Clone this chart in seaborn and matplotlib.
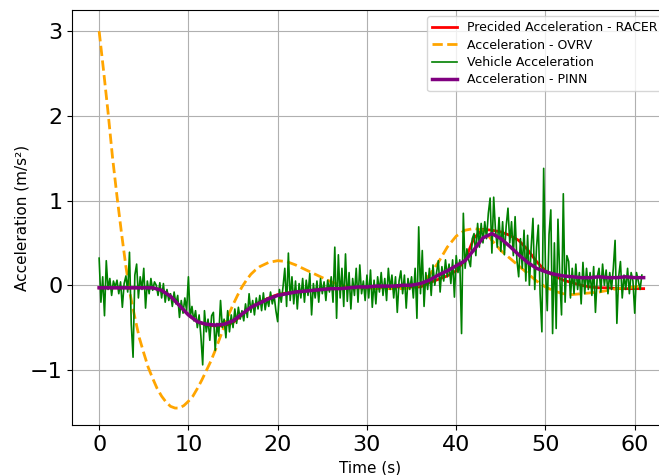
import numpy as np
import matplotlib
matplotlib.use("Agg")
import matplotlib.pyplot as plt
import seaborn as sns

# ---------------- data ----------------
# smooth model outputs sampled once per second (0 .. 61 s)
model_t = list(range(0, 62))
pinn_acc = [-0.03, -0.03, -0.03, -0.03, -0.03, -0.03, -0.03, -0.06, -0.13, -0.24,
            -0.35, -0.43, -0.46, -0.47, -0.46, -0.42, -0.34, -0.26, -0.21, -0.16,
            -0.12, -0.10, -0.08, -0.07, -0.06, -0.05, -0.04, -0.04, -0.03, -0.02,
            -0.02, -0.01, -0.01, -0.01, 0.00, 0.00, 0.02, 0.06, 0.12, 0.17,
            0.23, 0.29, 0.42, 0.56, 0.61, 0.55, 0.46, 0.36, 0.27, 0.20,
            0.16, 0.13, 0.11, 0.10, 0.09, 0.09, 0.10, 0.09, 0.09, 0.10,
            0.09, 0.09]
racer_acc = [-0.03, -0.03, -0.03, -0.03, -0.03, -0.03, -0.03, -0.06, -0.13, -0.24,
             -0.35, -0.43, -0.47, -0.48, -0.48, -0.44, -0.35, -0.26, -0.20, -0.15,
             -0.11, -0.09, -0.08, -0.07, -0.06, -0.05, -0.04, -0.04, -0.03, -0.03,
             -0.03, -0.03, -0.02, -0.02, -0.02, -0.02, -0.02, 0.03, 0.07, 0.11,
             0.17, 0.30, 0.56, 0.66, 0.65, 0.63, 0.59, 0.53, 0.42, 0.28,
             0.17, 0.11, 0.06, 0.03, 0.00, -0.02, -0.03, -0.03, -0.04, -0.04,
             -0.04, -0.04]

ovrv_t = [0, 0.5, 1.0, 1.5, 2.0, 2.5, 3.0, 3.5, 4.0, 4.5, 5.0, 5.5, 6.0, 6.5, 7.0,
          7.5, 8.0, 8.5, 9.0, 9.5, 10.0, 10.5, 11.0, 11.5, 12.0, 12.5, 13.0, 13.5,
          14.0, 14.5, 15.0, 15.5, 16.0, 16.5, 17.0, 17.5, 18, 19, 20, 21, 22, 23,
          24, 25, 26, 27, 28, 29, 30, 31, 32, 33, 34, 35, 36, 37, 38, 39, 40, 41,
          42, 43, 43.5, 44, 44.5, 45, 46, 47, 48, 49, 50, 51, 52, 53, 54, 55, 56,
          57, 58, 59, 60, 60.8]
ovrv_acc = [3.00, 2.53, 2.04, 1.51, 1.05, 0.62, 0.22, -0.12, -0.38, -0.62, -0.80,
            -0.97, -1.10, -1.22, -1.31, -1.38, -1.43, -1.45, -1.45, -1.42, -1.37,
            -1.31, -1.22, -1.12, -1.01, -0.90, -0.77, -0.63, -0.49, -0.35, -0.23,
            -0.12, -0.02, 0.06, 0.13, 0.18, 0.22, 0.27, 0.29, 0.28, 0.24, 0.19,
            0.14, 0.09, 0.04, 0.00, -0.02, -0.03, -0.03, -0.04, -0.04, -0.04,
            -0.04, -0.03, 0.01, 0.12, 0.27, 0.45, 0.58, 0.65, 0.67, 0.65, 0.60,
            0.53, 0.47, 0.41, 0.32, 0.23, 0.14, 0.05, -0.02, -0.07, -0.10, -0.11,
            -0.10, -0.09, -0.08, -0.06, -0.04, -0.03, -0.02, -0.01]

# measured vehicle acceleration, one value every 0.2 s (0 .. 60.8 s)
vehicle_acc = [
    0.32, -0.20, 0.10, -0.36, 0.29,   -0.05, 0.08, -0.12, 0.05, -0.02,
    0.06, -0.10, 0.04, -0.26, 0.02,   0.11, -0.08, 0.39, -0.46, -0.85,
    0.12, 0.25, -0.15, 0.10, -0.05,   0.20, -0.27, 0.05, -0.10, 0.08,
    -0.06, 0.04, 0.00, -0.12, 0.03,   -0.15, 0.02, -0.20, -0.05, -0.18,
    -0.10, -0.25, -0.08, -0.22, -0.12,   -0.38, -0.18, -0.33, -0.15, -0.30,
    0.10, -0.38, -0.25, -0.42, -0.30,   -0.50, -0.35, -0.60, -0.94, -0.30,
    -0.55, -0.40, -0.65, -0.36, -0.32,   -0.77, -0.45, -0.60, -0.18, -0.50,
    -0.40, -0.62, -0.30, -0.55, -0.35,   -0.50, -0.28, -0.45, -0.26, -0.40,
    -0.30, -0.42, -0.22, -0.38, -0.10,   -0.32, -0.18, -0.35, -0.15, -0.28,
    -0.12, -0.30, -0.09, -0.29, -0.15,   -0.25, -0.08, -0.22, -0.12, -0.30,
    -0.43, -0.05, -0.20, -0.02, 0.20,   -0.25, 0.38, -0.18, 0.10, -0.22,
    0.05, -0.28, 0.02, -0.15, 0.08,   -0.20, 0.06, -0.12, 0.14, -0.35,
    0.02, -0.15, 0.05, -0.20, 0.08,   -0.10, 0.04, -0.18, 0.06, -0.08,
    0.10, -0.20, 0.45, -0.39, 0.36,   -0.15, 0.20, -0.25, 0.37, -0.19,
    0.15, -0.28, 0.08, -0.12, 0.20,   -0.20, 0.24, -0.10, 0.05, -0.18,
    0.12, -0.15, 0.18, -0.26, 0.06,   -0.22, 0.10, -0.08, 0.15, -0.12,
    0.08, -0.18, 0.20, -0.05, 0.12,   -0.15, 0.10, -0.32, 0.05, 0.17,
    -0.10, 0.12, -0.27, 0.08, -0.05,   0.10, -0.15, 0.20, -0.39, 0.69,
    -0.10, 0.41, -0.25, 0.15, -0.05,   0.20, -0.12, 0.24, 0.00, 0.15,
    0.29, -0.08, 0.22, 0.05, 0.30,   0.10, 0.25, 0.02, 0.30, -0.14,
    0.35, 0.15, 0.30, -0.57, 0.85,   0.20, 0.43, 0.30, 0.22, 0.55,
    0.61, 0.35, 0.73, 0.45, 0.73,   0.50, 0.75, 0.55, 0.85, 1.03,
    0.38, 1.04, 0.65, 0.45, 0.80,   0.40, 0.75, 0.36, 0.70, 0.91,
    0.50, 0.75, 0.35, 0.81, 0.30,   0.10, 0.55, 0.20, 0.65, 0.05,
    0.59, 0.00, 0.45, 0.79, -0.05,   0.45, 0.71, -0.10, -0.55, 1.38,
    0.20, -0.30, 0.60, 0.89, -0.57,   0.50, -0.51, 0.78, 0.10, -0.35,
    1.08, -0.20, 0.35, 0.28, -0.15,   0.20, -0.10, 0.25, -0.05, 0.15,
    -0.22, 0.27, -0.10, 0.20, -0.05,   0.15, -0.12, 0.22, -0.32, 0.10,
    0.20, -0.08, 0.25, 0.00, 0.18,   -0.10, 0.15, -0.05, 0.20, 0.53,
    -0.45, 0.10, 0.28, -0.15, 0.12,   -0.05, 0.20, -0.10, 0.15, 0.05,
    -0.33, 0.15, 0.05, -0.05, 0.12,
]
vehicle_t = np.round(np.arange(len(vehicle_acc)) * 0.2, 1)

xticks = [0, 10, 20, 30, 40, 50, 60]
yticks = [-1, 0, 1, 2, 3]

# ---------------- plot ----------------
fig = plt.figure(figsize=(6.59, 4.75), dpi=100)
ax = fig.add_axes([72 / 659, 1 - 425 / 475, 597 / 659, 415 / 475])

sns.lineplot(x=model_t, y=racer_acc, ax=ax, color="red", lw=2,
             label="Precided Acceleration - RACER")
sns.lineplot(x=ovrv_t, y=ovrv_acc, ax=ax, color="orange", lw=2, linestyle="--",
             label="Acceleration - OVRV")
sns.lineplot(x=vehicle_t, y=vehicle_acc, ax=ax, color="green", lw=1.2,
             label="Vehicle Acceleration")
sns.lineplot(x=model_t, y=pinn_acc, ax=ax, color="purple", lw=2.5,
             label="Acceleration - PINN")

ax.set_xlim(-3.04, 63.84)
ax.set_ylim(-1.65, 3.25)
ax.set_xticks(xticks)
ax.set_yticks(yticks)
ax.tick_params(labelsize=16)
ax.set_xlabel("Time (s)", fontsize=11)
ax.set_ylabel("Acceleration (m/s²)", fontsize=11)
ax.yaxis.set_label_coords(-0.072, 0.5)
ax.grid(True, color="#b0b0b0", lw=0.8)
ax.legend(loc="upper right", fontsize=9, labelspacing=0.35)

fig.savefig("out.png", dpi=100)
